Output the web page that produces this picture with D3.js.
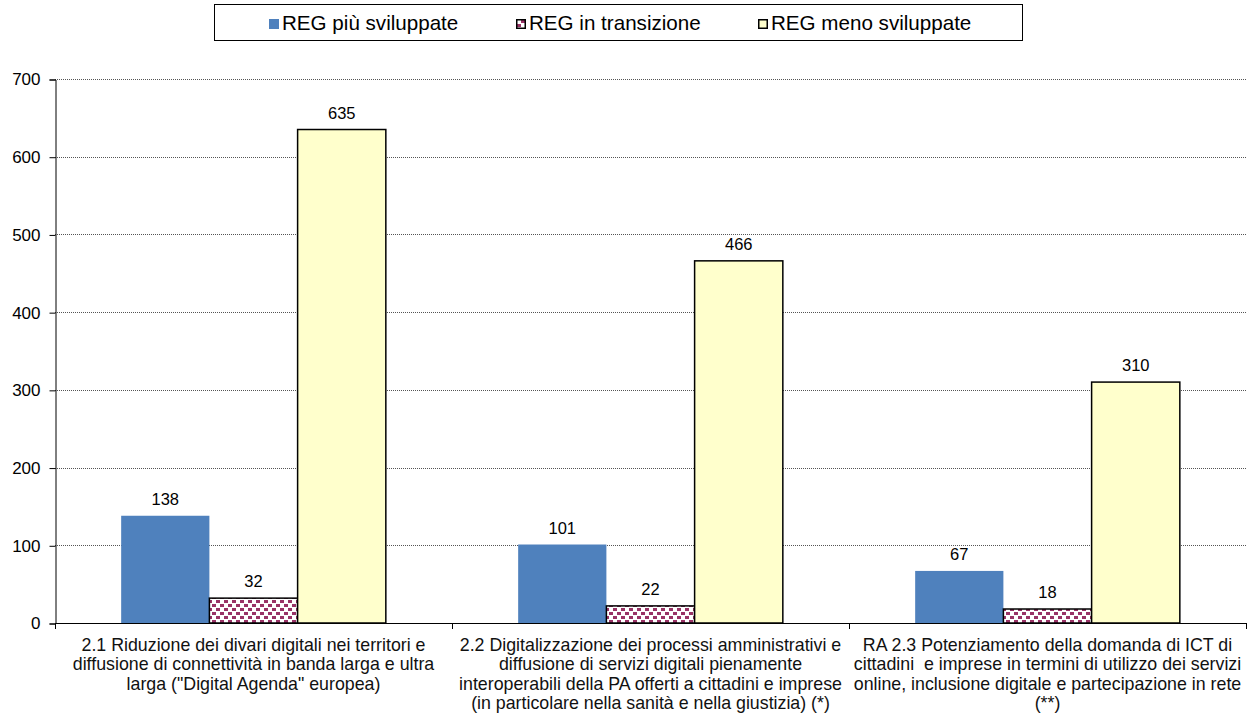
<!DOCTYPE html>
<html>
<head>
<meta charset="utf-8">
<script src="https://cdn.jsdelivr.net/npm/d3@7"></script>
<style>
  html, body { margin: 0; padding: 0; background: #fff; }
  svg { display: block; font-family: "Liberation Sans", Arial, sans-serif; }
  text { white-space: pre; }
</style>
</head>
<body>
<svg id="chart" width="1250" height="717"></svg>
<script>
// Obiettivi specifici (risultati attesi) dell'asse 2
const categories = [
  ["2.1 Riduzione dei divari digitali nei territori e", "diffusione di connettività in banda larga e ultra", "larga (\"Digital Agenda\" europea)"],
  ["2.2 Digitalizzazione dei processi amministrativi e", "diffusione di servizi digitali pienamente", "interoperabili della PA offerti a cittadini e imprese", "(in particolare nella sanità e nella giustizia) (*)"],
  ["RA 2.3 Potenziamento della domanda di ICT di", "cittadini  e imprese in termini di utilizzo dei servizi", "online, inclusione digitale e partecipazione in rete", "(**)"]
];
const seriesNames = ["REG più sviluppate", "REG in transizione", "REG meno sviluppate"];
const piuSviluppate = [138, 101, 67];
const inTransizione = [32, 22, 18];
const menoSviluppate = [635, 466, 310];
const yTicks = [0, 100, 200, 300, 400, 500, 600, 700];

const seriesValues = [piuSviluppate, inTransizione, menoSviluppate];

const svg = d3.select("#chart");
const defs = svg.append("defs");

// Motivo a quadretti per le regioni in transizione
const pat = defs.append("pattern")
  .attr("id", "dots")
  .attr("patternUnits", "userSpaceOnUse")
  .attr("width", 8).attr("height", 8);
pat.append("rect").attr("width", 8).attr("height", 8).attr("fill", "#fff");
pat.append("rect").attr("x", 1).attr("y", 0).attr("width", 4).attr("height", 3).attr("fill", "#993366");
pat.append("rect").attr("x", 5).attr("y", 4).attr("width", 3).attr("height", 3).attr("fill", "#993366");
pat.append("rect").attr("x", 0).attr("y", 4).attr("width", 1).attr("height", 3).attr("fill", "#993366");

const fills = ["#4f81bd", "url(#dots)", "#ffffcc"];
const strokes = ["none", "#000", "#000"];

const plotLeft = 55, plotRight = 1246, plotTop = 79, plotBottom = 623;

const x0 = d3.scaleBand()
  .domain(d3.range(categories.length))
  .range([plotLeft, plotRight])
  .paddingInner(0).paddingOuter(0);

const x1 = d3.scaleBand()
  .domain(d3.range(seriesNames.length))
  .range([0, x0.bandwidth()])
  .paddingInner(0)
  .paddingOuter(0.75);

const y = d3.scaleLinear().domain([0, 700]).range([plotBottom, plotTop]);

// Griglia orizzontale tratteggiata
svg.append("g")
  .selectAll("line")
  .data(yTicks.filter(d => d > 0))
  .join("line")
  .attr("x1", plotLeft).attr("x2", plotRight)
  .attr("y1", d => Math.round(y(d)) + 0.5).attr("y2", d => Math.round(y(d)) + 0.5)
  .attr("stroke", "#555")
  .attr("stroke-width", 1)
  .attr("stroke-dasharray", "1,1");

// Barre
const groups = svg.append("g")
  .selectAll("g")
  .data(categories.map((c, i) => i))
  .join("g")
  .attr("transform", i => `translate(${x0(i)},0)`);

groups.selectAll("rect")
  .data(i => seriesValues.map((s, k) => ({ k, v: s[i] })))
  .join("rect")
  .attr("x", d => x1(d.k))
  .attr("y", d => y(d.v))
  .attr("width", x1.bandwidth())
  .attr("height", d => y(0) - y(d.v))
  .attr("fill", d => fills[d.k])
  .attr("stroke", d => strokes[d.k])
  .attr("stroke-width", 1.5);

// Etichette dei valori
groups.selectAll("text.val")
  .data(i => seriesValues.map((s, k) => ({ k, v: s[i] })))
  .join("text")
  .attr("class", "val")
  .attr("x", d => x1(d.k) + x1.bandwidth() / 2)
  .attr("y", d => y(d.v) - 11)
  .attr("text-anchor", "middle")
  .attr("font-size", 16.5)
  .attr("fill", "#000")
  .text(d => d.v);

// Asse Y
const yAxis = d3.axisLeft(y).tickValues(yTicks).tickSize(6).tickPadding(9);
const gy = svg.append("g")
  .attr("transform", `translate(${plotLeft + 0.5},0.5)`)
  .call(yAxis);
gy.select(".domain").attr("stroke", "#000").attr("stroke-width", 1);
gy.selectAll(".tick line").attr("stroke", "#000");
gy.selectAll(".tick text")
  .attr("font-size", 17)
  .attr("font-family", "Liberation Sans, Arial, sans-serif")
  .attr("fill", "#000");

// Asse X con tacche ai confini delle categorie
svg.append("line")
  .attr("x1", plotLeft).attr("x2", plotRight)
  .attr("y1", plotBottom + 0.5).attr("y2", plotBottom + 0.5)
  .attr("stroke", "#000");
const bounds = d3.range(categories.length + 1).map(i => i < categories.length ? x0(i) : x0.range()[1]);
svg.append("g")
  .selectAll("line")
  .data(bounds)
  .join("line")
  .attr("x1", d => Math.round(d) + 0.5).attr("x2", d => Math.round(d) + 0.5)
  .attr("y1", plotBottom).attr("y2", plotBottom + 6)
  .attr("stroke", "#000");

// Etichette delle categorie
const catText = svg.append("g")
  .selectAll("text")
  .data(categories)
  .join("text")
  .attr("text-anchor", "middle")
  .attr("font-size", 17.8)
  .attr("fill", "#111")
  .attr("transform", (d, i) => `translate(${x0(i) + x0.bandwidth() / 2},651)`);
catText.selectAll("tspan")
  .data(d => d)
  .join("tspan")
  .attr("x", 0)
  .attr("dy", (d, j) => j === 0 ? 0 : 19.3)
  .text(d => d);

// Legenda
const lg = svg.append("g");
lg.append("rect")
  .attr("x", 214.5).attr("y", 4.5)
  .attr("width", 808).attr("height", 36)
  .attr("fill", "#fff")
  .attr("stroke", "#000");
const legendX = [269, 516, 758];
const items = lg.selectAll("g.item")
  .data(seriesNames)
  .join("g")
  .attr("class", "item")
  .attr("transform", (d, i) => `translate(${legendX[i]},0)`);
items.append("rect")
  .attr("x", (d, i) => i === 0 ? 0 : 0.75)
  .attr("y", (d, i) => i === 0 ? 19 : 19.75)
  .attr("width", (d, i) => i === 0 ? 10 : 8.5)
  .attr("height", (d, i) => i === 0 ? 10 : 8.5)
  .attr("fill", (d, i) => fills[i])
  .attr("stroke", (d, i) => strokes[i])
  .attr("stroke-width", 1.5);
items.append("text")
  .attr("x", 13)
  .attr("y", 30)
  .attr("font-size", 20.6)
  .attr("fill", "#000")
  .text(d => d);
</script>
</body>
</html>
